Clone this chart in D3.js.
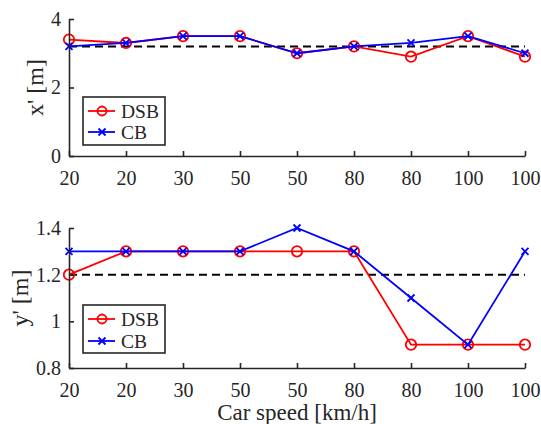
<!DOCTYPE html>
<html>
<head>
<meta charset="utf-8">
<script type="text/javascript" src="https://d3js.org/d3.v7.min.js"></script>
<style>
    body { margin: 0; background: #ffffff; }
    svg text { fill: #262626; }
</style>
</head>
<body>
<svg id="chart" width="541" height="424"></svg>
<script type="text/javascript">
// data
var speeds = ["20", "20", "30", "50", "50", "80", "80", "100", "100"];
var xDSB = [3.4, 3.3, 3.5, 3.5, 3.0, 3.2, 2.9, 3.5, 2.9];
var xCB  = [3.2, 3.3, 3.5, 3.5, 3.0, 3.2, 3.3, 3.5, 3.0];
var xRef = 3.2;
var yDSB = [1.2, 1.3, 1.3, 1.3, 1.3, 1.3, 0.9, 0.9, 0.9];
var yCB  = [1.3, 1.3, 1.3, 1.3, 1.4, 1.3, 1.1, 0.9, 1.3];
var yRef = 1.2;
var xTicks = [0, 2, 4];
var yTicks = [0.8, 1, 1.2, 1.4];

var svg = d3.select("#chart");
var axisColor = "#262626";
var serif = "'Liberation Serif', serif";
var cross = "M-3.5,-3.5L3.5,3.5M-3.5,3.5L3.5,-3.5";

var x = d3.scaleLinear().domain([0, speeds.length - 1]).range([69, 525]);

function panel(top, bottom, domain, ticks, dsb, cb, ref, ylabel, labelX, legendTop, rowGap) {
    var y = d3.scaleLinear().domain(domain).range([bottom, top]);
    var g = svg.append("g");

    // reference dashed line
    g.append("line")
        .attr("x1", x(0)).attr("x2", x(speeds.length - 1))
        .attr("y1", y(ref)).attr("y2", y(ref))
        .attr("stroke", "#000").attr("stroke-width", 2)
        .attr("stroke-dasharray", "8,5");

    var line = d3.line()
        .x(function(d, i) { return x(i); })
        .y(function(d) { return y(d); });

    g.append("path").datum(dsb)
        .attr("d", line).attr("fill", "none")
        .attr("stroke", "#ff0000").attr("stroke-width", 1.8);
    g.selectAll("circle.dsb").data(dsb).enter().append("circle")
        .attr("class", "dsb")
        .attr("cx", function(d, i) { return x(i); })
        .attr("cy", function(d) { return y(d); })
        .attr("r", 5.2).attr("fill", "none")
        .attr("stroke", "#ff0000").attr("stroke-width", 1.8);

    g.append("path").datum(cb)
        .attr("d", line).attr("fill", "none")
        .attr("stroke", "#0000ff").attr("stroke-width", 1.8);
    g.selectAll("path.cb").data(cb).enter().append("path")
        .attr("class", "cb")
        .attr("transform", function(d, i) { return "translate(" + x(i) + "," + y(d) + ")"; })
        .attr("d", cross)
        .attr("stroke", "#0000ff").attr("stroke-width", 1.8);

    // axes (only left and bottom, ticks pointing inward)
    var xAxis = g.append("g")
        .attr("transform", "translate(0," + bottom + ")")
        .call(d3.axisBottom(x).tickValues(d3.range(speeds.length))
            .tickFormat(function(i) { return speeds[i]; })
            .tickSizeInner(-5).tickSizeOuter(0).tickPadding(15));
    var yAxis = g.append("g")
        .attr("transform", "translate(" + x(0) + ",0)")
        .call(d3.axisLeft(y).tickValues(ticks)
            .tickFormat(function(d) { return String(d); })
            .tickSizeInner(-5).tickSizeOuter(0).tickPadding(8));
    [xAxis, yAxis].forEach(function(a) {
        a.attr("font-family", serif).attr("font-size", 20);
        a.select(".domain").attr("stroke", axisColor).attr("stroke-width", 1.6);
        a.selectAll(".tick line").attr("stroke", axisColor).attr("stroke-width", 1.6);
        a.selectAll(".tick text").attr("fill", axisColor);
    });

    g.append("text")
        .attr("transform", "translate(" + labelX + "," + ((top + bottom) / 2) + ") rotate(-90)")
        .attr("text-anchor", "middle")
        .attr("font-family", serif)
        .attr("font-size", 24)
        .text(ylabel);

    // legend
    var lg = g.append("g").attr("transform", "translate(83," + legendTop + ")")
        .attr("font-family", serif).attr("font-size", 19.5);
    lg.append("rect").attr("width", 82).attr("height", 48)
        .attr("fill", "#fff").attr("stroke", axisColor).attr("stroke-width", 1.6);
    var ly1 = 14, ly2 = 14 + rowGap;
    lg.append("line").attr("x1", 5).attr("x2", 32).attr("y1", ly1).attr("y2", ly1)
        .attr("stroke", "#ff0000").attr("stroke-width", 1.8);
    lg.append("circle").attr("cx", 19).attr("cy", ly1).attr("r", 4.5)
        .attr("fill", "none").attr("stroke", "#ff0000").attr("stroke-width", 1.8);
    lg.append("text").attr("x", 38).attr("y", ly1 + 7).text("DSB");
    lg.append("line").attr("x1", 5).attr("x2", 32).attr("y1", ly2).attr("y2", ly2)
        .attr("stroke", "#0000ff").attr("stroke-width", 1.8);
    lg.append("path").attr("transform", "translate(19," + ly2 + ")")
        .attr("d", cross)
        .attr("stroke", "#0000ff").attr("stroke-width", 1.8);
    lg.append("text").attr("x", 38).attr("y", ly2 + 7).text("CB");
}

panel(19, 156, [0, 4], xTicks, xDSB, xCB, xRef, "x' [m]", 43, 97, 21);
panel(228, 368, [0.8, 1.4], yTicks, yDSB, yCB, yRef, "y' [m]", 28, 305, 22);

svg.append("text")
    .attr("x", (x(0) + x(speeds.length - 1)) / 2)
    .attr("y", 420)
    .attr("text-anchor", "middle")
    .attr("font-family", serif)
    .attr("font-size", 23)
    .text("Car speed [km/h]");
</script>
</body>
</html>
